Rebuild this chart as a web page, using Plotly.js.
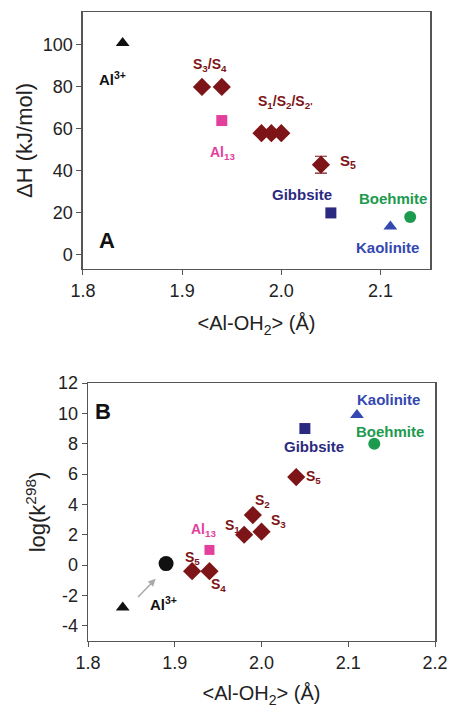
<!DOCTYPE html>
<html>
<head>
<meta charset="utf-8">
<script src="https://cdn.plot.ly/plotly-3.0.1.min.js"></script>
<style>html,body{margin:0;padding:0;background:#fff;}#chart{width:450px;height:711px;}</style>
</head>
<body>
<div id="chart"></div>
<script>
// ---------- Panel A data: ΔH (kJ/mol) vs <Al-OH2> (Å) ----------
const aAl3X = [1.84];            const aAl3Y = [101];
const aSX = [1.92, 1.94, 1.98, 1.99, 2.00, 2.04];
const aSY = [80, 80, 58, 58, 58, 43];
const aSErr = [0, 0, 0, 0, 0, 4];
const aAl13X = [1.94];           const aAl13Y = [64];
const aGibbX = [2.05];           const aGibbY = [20];
const aKaolX = [2.11];           const aKaolY = [13.5];
const aBoehX = [2.13];           const aBoehY = [18];

// ---------- Panel B data: log(k298) vs <Al-OH2> (Å) ----------
const bAl3X = [1.84];            const bAl3Y = [-2.8];
const bCircX = [1.89];           const bCircY = [0.1];
const bSX = [1.92, 1.94, 1.98, 1.99, 2.00, 2.04];
const bSY = [-0.4, -0.4, 2.0, 3.3, 2.2, 5.8];
const bAl13X = [1.94];           const bAl13Y = [1.0];
const bGibbX = [2.05];           const bGibbY = [9.0];
const bKaolX = [2.11];           const bKaolY = [9.9];
const bBoehX = [2.13];           const bBoehY = [8.0];

const xTicksA = [1.8, 1.9, 2.0, 2.1];
const xLabelsA = ['1.8', '1.9', '2.0', '2.1'];
const yTicksA = [0, 20, 40, 60, 80, 100];
const yLabelsA = ['0', '20', '40', '60', '80', '100'];
const xTicksB = [1.8, 1.9, 2.0, 2.1, 2.2];
const xLabelsB = ['1.8', '1.9', '2.0', '2.1', '2.2'];
const yTicksB = [-4, -2, 0, 2, 4, 6, 8, 10, 12];
const yLabelsB = ['-4', '-2', '0', '2', '4', '6', '8', '10', '12'];

const RED = '#7d1418', PINK = '#e2409c', NAVY = '#2b2a80', BLUE = '#3348b0', GREEN = '#1c9a4e';

function pts(x, y, xa, ya, symbol, color, size, extra) {
  return Object.assign({x: x, y: y, xaxis: xa, yaxis: ya, type: 'scatter', mode: 'markers',
    marker: {symbol: symbol, color: color, size: size}, showlegend: false, hoverinfo: 'x+y'}, extra || {});
}

const data = [
  pts(aAl3X, aAl3Y, 'x', 'y', 'triangle-up', '#111', 12),
  pts(aSX, aSY, 'x', 'y', 'diamond', RED, 14, {error_y: {type: 'data', array: aSErr, symmetric: true, color: RED, thickness: 1.2, width: 6}}),
  pts(aAl13X, aAl13Y, 'x', 'y', 'square', PINK, 11),
  pts(aGibbX, aGibbY, 'x', 'y', 'square', NAVY, 11),
  pts(aKaolX, aKaolY, 'x', 'y', 'triangle-up', BLUE, 12),
  pts(aBoehX, aBoehY, 'x', 'y', 'circle', GREEN, 12),

  pts(bAl3X, bAl3Y, 'x2', 'y2', 'triangle-up', '#111', 12),
  pts(bCircX, bCircY, 'x2', 'y2', 'circle', '#111', 15),
  pts(bSX, bSY, 'x2', 'y2', 'diamond', RED, 14),
  pts(bAl13X, bAl13Y, 'x2', 'y2', 'square', PINK, 10),
  pts(bGibbX, bGibbY, 'x2', 'y2', 'square', NAVY, 11),
  pts(bKaolX, bKaolY, 'x2', 'y2', 'triangle-up', BLUE, 12),
  pts(bBoehX, bBoehY, 'x2', 'y2', 'circle', GREEN, 12)
];

const FONT = 'Liberation Sans, Arial, sans-serif';
function ann(x, y, text, color, xa, ya, size) {
  return {x: x, y: y, xref: xa, yref: ya, text: '<b>' + text + '</b>', showarrow: false,
    font: {family: FONT, size: size || 15, color: color}};
}

const annotations = [
  ann(1.830, 84, 'Al<sup>3+</sup>', '#111', 'x', 'y', 15),
  ann(1.928, 90.5, 'S<sub>3</sub>/S<sub>4</sub>', RED, 'x', 'y', 14),
  ann(1.941, 48.5, 'Al<sub>13</sub>', PINK, 'x', 'y', 14),
  ann(2.004, 73, 'S<sub>1</sub>/S<sub>2</sub>/S<sub>2\'</sub>', RED, 'x', 'y', 14),
  ann(2.067, 44.5, 'S<sub>5</sub>', RED, 'x', 'y', 15),
  ann(2.021, 28.6, 'Gibbsite', NAVY, 'x', 'y', 15),
  ann(2.113, 26.7, 'Boehmite', GREEN, 'x', 'y', 15),
  ann(2.107, 3.3, 'Kaolinite', BLUE, 'x', 'y', 15),
  ann(1.824, 7, 'A', '#111', 'x', 'y', 22),

  ann(1.817, 10.1, 'B', '#111', 'x2', 'y2', 22),
  ann(1.887, -2.5, 'Al<sup>3+</sup>', '#111', 'x2', 'y2', 15),
  ann(1.933, 2.3, 'Al<sub>13</sub>', PINK, 'x2', 'y2', 14),
  ann(1.921, 0.45, 'S<sub>5</sub>', RED, 'x2', 'y2', 14),
  ann(1.950, -1.3, 'S<sub>4</sub>', RED, 'x2', 'y2', 14),
  ann(1.967, 2.6, 'S<sub>1</sub>', RED, 'x2', 'y2', 14),
  ann(2.001, 4.2, 'S<sub>2</sub>', RED, 'x2', 'y2', 14),
  ann(2.019, 2.9, 'S<sub>3</sub>', RED, 'x2', 'y2', 14),
  ann(2.060, 5.8, 'S<sub>5</sub>', RED, 'x2', 'y2', 14),
  ann(2.060, 7.8, 'Gibbsite', NAVY, 'x2', 'y2', 15),
  ann(2.146, 10.9, 'Kaolinite', BLUE, 'x2', 'y2', 15),
  ann(2.148, 8.8, 'Boehmite', GREEN, 'x2', 'y2', 15),
  {x: 1.878, y: -0.9, ax: 1.856, ay: -2.2, xref: 'x2', yref: 'y2', axref: 'x2', ayref: 'y2',
   showarrow: true, arrowhead: 2, arrowsize: 1, arrowwidth: 1.5, arrowcolor: '#aaa', text: ''}
];

const axBase = {showline: true, mirror: true, linecolor: '#555', linewidth: 1.5, ticks: 'outside',
  ticklen: 5, tickcolor: '#555', showgrid: false, zeroline: false,
  tickfont: {family: FONT, size: 18, color: '#222'}};

const layout = {
  width: 450, height: 711, paper_bgcolor: '#fff', plot_bgcolor: '#fff',
  margin: {l: 0, r: 0, t: 0, b: 0},
  font: {family: FONT},
  xaxis: Object.assign({}, axBase, {domain: [0.1844, 0.9556], range: [1.8, 2.15], tickvals: xTicksA,
    ticktext: xLabelsA, anchor: 'y',
    title: {text: '&lt;Al-OH<sub>2</sub>&gt; (Å)', font: {family: FONT, size: 20, color: '#222'}, standoff: 16}}),
  yaxis: Object.assign({}, axBase, {domain: [0.6217, 0.9831], range: [-6.7, 115.7], tickvals: yTicksA,
    ticktext: yLabelsA, anchor: 'x',
    title: {text: 'ΔH (kJ/mol)', font: {family: FONT, size: 22, color: '#222'}, standoff: 4}}),
  xaxis2: Object.assign({}, axBase, {domain: [0.1956, 0.9667], range: [1.8, 2.2], tickvals: xTicksB,
    ticktext: xLabelsB, anchor: 'y2',
    title: {text: '&lt;Al-OH<sub>2</sub>&gt; (Å)', font: {family: FONT, size: 20, color: '#222'}, standoff: 14}}),
  yaxis2: Object.assign({}, axBase, {domain: [0.0985, 0.4613], range: [-5, 12], tickvals: yTicksB,
    ticktext: yLabelsB, anchor: 'x2',
    title: {text: 'log(k<sup>298</sup>)', font: {family: FONT, size: 22, color: '#222'}, standoff: 6}}),
  annotations: annotations
};

Plotly.newPlot('chart', data, layout, {displayModeBar: false, staticPlot: true});
</script>
</body>
</html>
